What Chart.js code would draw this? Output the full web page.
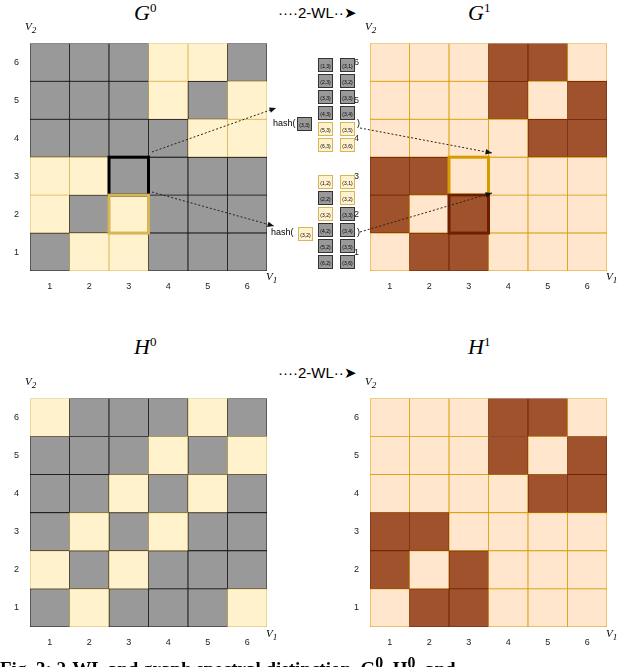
<!DOCTYPE html>
<html>
<head>
<meta charset="utf-8">
<script src="https://cdn.jsdelivr.net/npm/chart.js@4"></script>
<style>
body { margin:0; background:#fff; width:640px; height:667px; overflow:hidden; position:relative; font-family:"Liberation Sans", Arial, sans-serif; }
.box { position:absolute; }
.ttl { position:absolute; font-family:"Liberation Serif", serif; font-style:italic; font-size:22px; }
.ttl sup { font-size:13px; font-style:normal; }
.wl { position:absolute; font-size:15px; }
.ax { position:absolute; font-family:"Liberation Serif", serif; font-style:italic; font-size:11px; }
.cell { position:absolute; width:15px; height:14px; font-size:5px; line-height:14px; text-align:center; box-sizing:border-box; }
.hash { position:absolute; font-size:9px; }
#overlay { position:absolute; left:0; top:0; pointer-events:none; }
.cap { position:absolute; left:0; top:654px; font-family:"Liberation Serif", serif; font-size:19px; font-weight:bold; }
</style>
</head>
<body>
<div class="ttl" style="left:134px;top:0px">G<sup>0</sup></div>
<div class="ttl" style="left:468px;top:0px">G<sup>1</sup></div>
<div class="ttl" style="left:134px;top:334px">H<sup>0</sup></div>
<div class="ttl" style="left:468px;top:334px">H<sup>1</sup></div>
<div class="wl" style="left:278px;top:4px">····2-WL··➤</div>
<div class="wl" style="left:278px;top:364px">····2-WL··➤</div>

<div class="box" style="left:8px;top:35px;width:260px;height:256px"><canvas id="g0"></canvas></div>
<div class="box" style="left:348px;top:35px;width:260px;height:256px"><canvas id="g1"></canvas></div>
<div class="box" style="left:8px;top:390px;width:260px;height:257px"><canvas id="h0"></canvas></div>
<div class="box" style="left:348px;top:390px;width:260px;height:257px"><canvas id="h1"></canvas></div>

<div class="ax" style="left:25px;top:20px">V<sub>2</sub></div>
<div class="ax" style="left:365px;top:20px">V<sub>2</sub></div>
<div class="ax" style="left:25px;top:375px">V<sub>2</sub></div>
<div class="ax" style="left:365px;top:375px">V<sub>2</sub></div>
<div class="ax" style="left:266px;top:270px">V<sub>1</sub></div>
<div class="ax" style="left:606px;top:270px">V<sub>1</sub></div>
<div class="ax" style="left:266px;top:627px">V<sub>1</sub></div>
<div class="ax" style="left:606px;top:627px">V<sub>1</sub></div>

<div id="mid"></div>
<canvas id="overlay" width="640" height="667"></canvas>
<div class="cap">Fig. 3: 2-WL and graph spectral distinction, G<sup>0</sup>, H<sup>0</sup>, and</div>

<script>
// grid rows, bottom (1) to top (6); one letter per column
var categories = ['1', '2', '3', '4', '5', '6'];
var g0Rows = ['GYYGGG', 'YGYGGG', 'YYGGGG', 'GGGGYY', 'GGGYGY', 'GGGYYG'];
var g1Rows = ['LDDLLL', 'DLDLLL', 'DDLLLL', 'LLLLDD', 'LLLDLD', 'LLLDDL'];
var h0Rows = ['GYGGGY', 'YGYGGG', 'GYGYGG', 'GGYGYG', 'GGGYGY', 'YGGGYG'];
var h1Rows = ['LDDLLL', 'DLDLLL', 'DDLLLL', 'LLLLDD', 'LLLDLD', 'LLLDDL'];
var cellValues = [1, 1, 1, 1, 1, 1];

var fill = { G: '#999999', Y: '#fff2cc', L: '#ffe6cc', D: '#a0522d' };
var edge = { G: '#111111', Y: '#d6b656', L: '#d79b00', D: '#6d1f00' };

// highlighted cells: [column, row, color]
var g0Marks = [[3, 3, '#000000'], [3, 2, '#d6b656']];
var g1Marks = [[3, 3, '#d79b00'], [3, 2, '#6d1f00']];

var markPlugin = {
	id: 'marks',
	afterDatasetsDraw: function(chart, args, opts) {
		var ctx = chart.ctx, x = chart.scales.x, y = chart.scales.y;
		(opts.list || []).forEach(function(m) {
			var x0 = x.getPixelForValue(m[0] - 1) - x.width / 12;
			var x1 = x0 + x.width / 6;
			var y0 = y.getPixelForValue(m[1]), y1 = y.getPixelForValue(m[1] - 1);
			ctx.save();
			ctx.strokeStyle = m[2];
			ctx.lineWidth = 3;
			ctx.strokeRect(x0, y0, x1 - x0, y1 - y0);
			ctx.restore();
		});
	}
};

function makeGrid(id, rows, marks) {
	var datasets = rows.map(function(r) {
		var letters = r.split('');
		return {
			data: cellValues,
			backgroundColor: letters.map(function(c) { return fill[c]; }),
			borderColor: letters.map(function(c) { return edge[c]; }),
			borderWidth: 0.8,
			borderSkipped: false,
			barPercentage: 1,
			categoryPercentage: 1
		};
	});
	new Chart(document.getElementById(id), {
		type: 'bar',
		data: { labels: categories, datasets: datasets },
		plugins: [markPlugin],
		options: {
			responsive: true,
			maintainAspectRatio: false,
			animation: false,
			layout: { padding: { top: 1, right: 1 } },
			plugins: { legend: { display: false }, tooltip: { enabled: false }, marks: { list: marks } },
			scales: {
				x: {
					stacked: true,
					grid: { display: false },
					border: { display: false },
					ticks: { font: { size: 9 }, color: '#222', padding: 2 },
					afterFit: function(s) { s.height = 20; }
				},
				y: {
					stacked: true, min: 0, max: 6,
					grid: { display: false },
					border: { display: false },
					afterBuildTicks: function(s) { s.ticks = categories.map(function(c, i) { return { value: i + 0.5 }; }); },
					ticks: { font: { size: 9 }, color: '#222', callback: function(v) { return v + 0.5; } },
					afterFit: function(s) { s.width = 22; }
				}
			}
		}
	});
}

makeGrid('g0', g0Rows, g0Marks);
makeGrid('g1', g1Rows, g1Marks);
makeGrid('h0', h0Rows, []);
makeGrid('h1', h1Rows, []);

// hash columns
var topLeft = ['(1,3)', '(2,3)', '(3,3)', '(4,3)', '(5,3)', '(6,3)'];
var topRight = ['(3,1)', '(3,2)', '(3,3)', '(3,4)', '(3,5)', '(3,6)'];
var topLeftC = 'GGGGYY', topRightC = 'GGGGYY';
var botLeft = ['(1,2)', '(2,2)', '(3,2)', '(4,2)', '(5,2)', '(6,2)'];
var botRight = ['(3,1)', '(3,2)', '(3,3)', '(3,4)', '(3,5)', '(3,6)'];
var botLeftC = 'YGYGGG', botRightC = 'YYGGGG';

var mid = document.getElementById('mid');
function cell(x, y, t, c) {
	var d = document.createElement('div');
	d.className = 'cell';
	d.style.left = x + 'px'; d.style.top = y + 'px';
	d.style.background = fill[c];
	d.style.border = '1px solid ' + (c === 'G' ? '#333' : '#d6b656');
	d.textContent = t;
	mid.appendChild(d);
}
function column(x, y, labels, colors) {
	labels.forEach(function(t, i) { cell(x, y + i * 16, t, colors[i]); });
}
column(318, 58, topLeft, topLeftC);
column(340, 58, topRight, topRightC);
column(318, 175, botLeft, botLeftC);
column(340, 175, botRight, botRightC);
cell(297, 117, '(3,3)', 'G');
cell(298, 262 - 4 - 30 - 1, '(3,2)', 'Y');
function txt(x, y, t) {
	var d = document.createElement('div');
	d.className = 'hash'; d.style.left = x + 'px'; d.style.top = y + 'px';
	d.textContent = t; mid.appendChild(d);
}
txt(273, 118, 'hash(');
txt(271, 261 - 4 - 30, 'hash(');
txt(357, 118, ')');
txt(357, 261 - 4 - 30, ')');

// dotted arrows
var ctx = document.getElementById('overlay').getContext('2d');
function arrow(x0, y0, x1, y1) {
	ctx.save();
	ctx.setLineDash([2, 2]);
	ctx.strokeStyle = '#222';
	ctx.lineWidth = 1;
	ctx.beginPath(); ctx.moveTo(x0, y0); ctx.lineTo(x1, y1); ctx.stroke();
	ctx.setLineDash([]);
	var a = Math.atan2(y1 - y0, x1 - x0);
	ctx.fillStyle = '#111';
	ctx.beginPath();
	ctx.moveTo(x1, y1);
	ctx.lineTo(x1 - 7 * Math.cos(a - 0.4), y1 - 7 * Math.sin(a - 0.4));
	ctx.lineTo(x1 - 7 * Math.cos(a + 0.4), y1 - 7 * Math.sin(a + 0.4));
	ctx.fill();
	ctx.restore();
}
arrow(152, 152, 276, 108);
arrow(152, 192, 274, 226);
arrow(360, 128, 492, 153);
arrow(360, 232, 492, 193);
</script>
</body>
</html>
